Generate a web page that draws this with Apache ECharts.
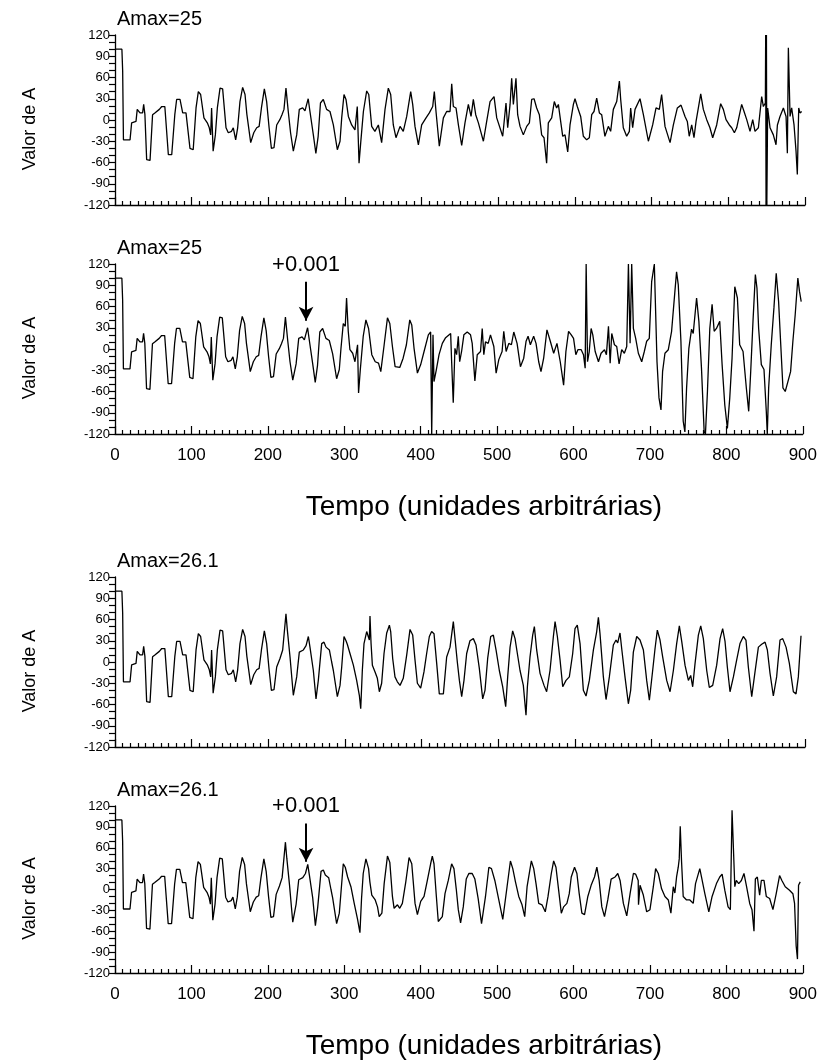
<!DOCTYPE html>
<html>
<head>
<meta charset="utf-8">
<script src="https://cdn.jsdelivr.net/npm/echarts@6/dist/echarts.min.js"></script>
<style>
  html, body { margin: 0; padding: 0; background: #fff; }
  #chart { width: 820px; height: 1061px; }
</style>
</head>
<body>
<div id="chart"></div>
<script>
// Série temporal de A(t): pares [tempo, valor].
// Transiente inicial, comum às quatro simulações.
const transitorio = [
  [0,100],[9,100],[10,69],[11,-28],[19.6,-28],[21.7,-4],[27.4,-2],[29,15],[31.3,17],[32.6,10],[36,10],[37.4,22],[39,8],[41.3,-56],[45.7,-57],
  [49,7.5],[52,10],[57.8,15],[61,19],[65,19],[69.6,-49],[74,-49],[78,7.5],[80.4,29],[84.8,29],[88.3,10],[92.6,10],[97.8,-40],[102,-42],
  [105.7,17],[108.7,40],[111.7,36],[116,3],[120.4,-4],[123,-11],[124.8,-21],[126,17],[128,-44],[130.9,-21],[133.5,17],[137,45],[140.4,44],
  [144.8,-11],[147.8,-18],[152,-16],[154.3,-11],[157.4,-28],[160,-11],[163,26],[166.5,46],[169.6,36],[172,8],[177,-32],[181,-18],[184.8,-11],
  [188,-9],[191,17],[194.8,44],[197.8,26],[201,-11],[204,-40],[207.4,-39],[210.9,-7]
];

// Amax = 25, trecho até t = 290
const a25Antes = [
  [215,0.5],[217.8,7.5],[220.4,15],[223,45],[226,12],[229,-18],[232.6,-44],[237,-21],[240.4,15],[244.8,17],[247.8,13],[250,22],[252,30],
  [254.3,12],[258.7,-21],[262,-47],[265,-23],[268,24],[271.7,29],[276,15],[280.4,12],[284.8,-7],[290,-42]
];

// Amax = 25, sem perturbação
const a25 = [
  [293.5,-30],[295.7,3],[298.7,36],[301.3,29],[304.4,5],[308.7,-7],[313,-14],[316,19],[318.3,-61],[320.5,-32],[324,12],[328.3,41],[331,36],
  [334.8,-9],[339,-16],[343.5,-7],[347.8,-32],[352.2,15],[356.5,45],[359.6,36],[363,-7],[366.5,-25],[371.8,-9],[376,-16],[380.5,5],[385.7,40],
  [388.3,22],[391.3,-9],[395.7,-35],[400,-7],[405.7,3],[410,10],[414.4,19],[416.5,40],[418.7,12],[423,-37],[428.3,3],[432.6,12],[437,12],
  [439.2,51],[441.3,19],[444.8,17],[447.9,-7],[452.2,-36],[456.5,-4],[460.9,22],[464.4,5],[467.4,29],[470.5,7.5],[474,-4],[477,-16],
  [480.5,-30],[484.8,-2],[489.2,26],[494.4,33],[497.9,3],[505.7,-23],[510,24],[512.2,-11],[515.3,22],[517.4,59],[519.6,22],[523,59],
  [525.2,7.5],[528.3,-9],[532.6,-21],[537,-9],[540.5,-4],[543.5,29],[546.6,30],[550,17],[553.5,7.5],[556.5,-21],[559.6,-25],[563,-61],
  [565.2,-4],[569.6,3],[573,26],[576,17],[578.3,22],[581.3,-2],[584,-23],[587,-21],[590.5,-45],
  [593.5,-7],[597.9,22],[600,30],[603,19],[607.4,5],[610.9,-23],[615.2,-28],[618.7,-25],[621.8,7.5],[624.8,12],[628.3,31],[631.8,10],
  [634.8,7.5],[639,-23],[643.5,-9],[646.5,-16],[650,15],[654.4,26],[657.9,55],[659.6,29],[663,-11],[667.4,-23],[670.9,-16],[672.6,17],
  [675.2,-11],[678.3,15],[684.8,30],[689.2,7.5],[695.7,-30],[701.3,-7],[705.7,17],[710,15],[713,36],[717.4,-9],[724,-32],[728.3,-7],
  [733.5,17],[738.3,21],[743.5,5],[746.5,-2],[749,-23],[752.2,-7],[755.2,-25],[757.9,-2],[760.9,17],[764,37],[767.4,15],[771.8,0.5],
  [776,-11],[779.6,-25],[784.8,-7],[790,23],[793.5,15],[797,0.5],[801.3,-7],[804.4,-11],[807.9,-18],[810.9,-11],[817.4,22],[820.5,12],
  [824,0.5],[828.3,-16],[831.8,0.5],[834.8,-16],[839.2,-11],[843.5,33],[845.7,19],[848.3,24],[848.7,120],[849.2,-120],[849.7,120],
  [850.2,-120],[851.3,17],[854.4,-11],[858.7,-21],[862.2,-35],[864,-7],[867.4,5],[871.8,17],[875.3,5],[877,-47],[878.3,102],[880.5,5],
  [882.6,17],[885.7,-7],[888.3,-44],[890,-77],[891.8,17],[893.5,10],[895.7,12]
];

// Amax = 25, perturbação de +0.001 em t = 250
const a25Pert = [
  [293.5,-29],[295.7,1],[298.7,36],[301.3,32],[303,72],[305.2,25],[307.4,-1],[311,-6],[314,-18],[317.4,6],[318.7,-62],[321,-29],[324.8,18],
  [328.3,41],[331.8,29],[336,-8],[340.5,-18],[344.8,-20],[347.8,-32],[352.2,6],[356.5,44],[359.6,36],[363,3.5],[366.5,-25],[372.6,-26],
  [377,-13],[381.3,6],[385.7,41],[388.3,34],[391.3,1],[395.7,-34],[400,-22],[404.4,-3.5],[410,20],[413,24],[414.4,-120],[416.1,20],
  [417.4,-46],[420.5,-29],[424,-8],[428.3,8],[432.6,16],[439.2,22],[440.5,-18],[442.6,-76],[444.8,1],[447,-8],[449.2,18],[451,-18],
  [453.5,-3.5],[456.5,20],[460.9,24],[465.2,20],[467.4,8],[470.9,-45],[474,-8],[476,-10],[478.3,-3.5],[480.5,29],[482.6,-8],[484.8,10],
  [488.3,8],[491.3,20],[493.5,20],[495.7,3.5],[498.7,-34],[502.2,-15],[506.5,-3.5],[508.7,25],[511.8,-3.5],[515.3,8],[518.7,6],[521.8,24],
  [524,25],[526.1,8],[530.5,-25],[534.8,-13],[537.9,11],[540.5,18],[543.5,6],[547.8,18],[550.9,8],[554.4,-18],[557.4,-32],[560.9,-13],
  [565.2,27],[569.6,11],[574,-6],[578.3,8],[582.6,-18],[587,-51],[590,-3.5],
  [593.5,25],[597,20],[600,15],[603,-8],[605.7,-1],[610,-1],[613,-8],[615.2,-27],[616.5,120],[618.3,-18],[620.5,-4],[623,29],[625.2,20],
  [628.3,-3.5],[632.6,-18],[636,-6],[640.5,-1],[643,-8],[645.7,32],[647.9,-20],[650,22],[653.5,6],[656.5,3.5],[659.6,-21],[663,-1],
  [666.5,-6],[669.6,3.5],[671.8,120],[674,8],[676.1,120],[678.3,29],[681.3,15],[684.8,-6],[689.2,-18],[692.6,-3.5],[695.7,11],[699.1,15],
  [702.2,95],[705.7,120],[707.4,120],[709.2,-18],[711.8,-69],[714.4,-86],[716.5,-32],[719.6,-6],[724,-1],[728.3,25],[732.6,81],[734.8,109],
  [737,91],[740.5,11],[743.5,-102],[745.7,-117],[747.9,-55],[750.9,1],[754.4,28],[756.6,22],[761,72],[764,39],[767.4,-27],[770.9,-117],
  [772.6,-120],[775.2,-60],[778.3,29],[781.3,63],[784,25],[787,29],[791.3,39],[794.4,-22],[797.9,-79],[801.3,-112],[804.4,-69],[807.4,-13],
  [811,88],[814.4,72],[817.4,6],[821.8,-3.5],[826.1,-55],[829.2,-88],[831.8,-32],[834.8,39],[837.9,105],[840,86],[842.2,29],[845.7,-22],
  [849.2,-29],[852.2,-88],[853.5,-120],[855.3,-55],[858.7,6],[862.2,58],[865.2,107],[868.3,67],[870.9,11],[874,-55],[877,-60],[880.5,-46],
  [884,-32],[887,11],[890,48],[893.5,100],[895.7,81],[897.9,67]
];

// Amax = 26.1, trecho até t = 290
const a261Antes = [
  [215.2,5],[218.7,17],[223,68],[224.8,45],[228.3,7],[232.6,-47],[237,-21],[240.4,14],[245.7,17],[249.2,23],[252.2,36],[254.3,21],
  [258.7,-12],[262.2,-52],[265.2,-26],[269.6,26],[272.6,28],[275.2,21],[279.6,17],[282.6,0],[284.8,-12],[290,-49]
];

// Amax = 26.1, sem perturbação
const a261 = [
  [293.5,-33],[295.7,-7],[298.7,36],[301.3,30],[303,25],[306.5,12],[310.9,-4.5],[315.2,-26],[318.7,-47],[320.5,-66],[322.6,-12],[324.8,26],
  [328.3,43],[331.8,31],[332.6,65],[334,26],[335.7,-4.5],[339.2,-14],[342.2,-23],[344.8,-42],[347.8,-30],[350.9,12],[354.4,41],[357.9,52],
  [359.6,43],[362.2,5],[365.2,-21],[368.3,-28],[371.8,-33],[376,-23],[380.5,10],[384.8,46],[388.3,38],[391.3,3],[394.4,-30],[398.7,-37],
  [403,-14],[406.5,12],[410,36],[413,43],[416.1,40],[419.6,-2],[423,-45],[428.3,-45],[432.6,7],[437,21],[441.3,57],[443.5,33],[446.5,0],
  [449.2,-26],[452.2,-49],[455.2,-26],[458.7,12],[463,30],[467.4,33],[470.9,24],[475.2,-9],[479.6,-52],[482.6,-40],[486.1,5],[490,36],
  [493.5,38],[497,17],[501.3,-12],[505.7,-35],[509.6,-63],[512.2,-21],[515.3,21],[518.7,44],[521.8,33],[524.8,12],[528.3,-12],[532.6,-33],
  [536.1,-75],[537.9,-35],[541.3,7],[544.8,38],[547,50],[550,17],[554.4,-16],[559.6,-33],[563,-42],[567.4,-12],[571.8,36],[574,57],
  [577,36],[580.5,3],[584,-35],[588.3,-26],[592.6,-21],
  [597,12],[600,47],[603,52],[606.6,26],[610.9,-40],[614.4,-48],[618.7,-26],[624,17],[628.3,43],[630.5,63],[632.6,40],[637,-21],
  [640.5,-53],[644.8,-21],[650,24],[653.5,31],[655.7,27],[658.7,41],[660.9,19],[665.2,-21],[669.6,-59],[672.6,-40],[676.1,14],[680.5,36],
  [684.8,31],[689.2,17],[693.5,-26],[697,-54],[701.3,-12],[704.4,19],[707.4,45],[710.9,31],[714.4,7],[719.6,-26],[724,-42],[728.3,-12],
  [732.6,26],[736.1,51],[739.2,29],[743.5,-4.5],[747.9,-26],[750.9,-19],[753.5,-35],[756.6,-2],[760.9,38],[764,51],[767.4,33],[771.8,-12],
  [775.2,-36],[779.6,-33],[784.8,-4.5],[789.2,33],[792.6,47],[795.7,29],[798.7,-7],[802.2,-42],[806.6,-21],[810.9,3],[815.2,26],[819.6,36],
  [823,31],[826.1,-7],[830.5,-49],[834.8,-14],[839.2,21],[843.5,25],[847.9,28],[850.9,17],[854.4,-16],[858.7,-48],[863,-21],[867.4,31],
  [870.9,33],[875.3,21],[879.6,-2],[884.8,-42],[888.3,-45],[891.3,-21],[894.8,37]
];

// Amax = 26.1, perturbação de +0.001 em t = 250
const a261Pert = [
  [293.5,-34],[295.7,-4],[298.7,37],[301.3,32],[304.4,18],[308.7,4],[313,-20],[317.4,-43],[320.5,-62],[322.6,-13],[324.8,23],[328.3,44],
  [331.8,30],[333.5,11],[336,-8],[340.5,-15],[343.5,-25],[345.7,-39],[349.2,-34],[352.2,8.5],[356.5,48],[359.6,39],[363,-10],[365.2,-27],
  [369.6,-22],[372.6,-27],[376,-20],[380.5,11],[384.8,46],[388.3,37],[392.6,-20],[395.7,-36],[400,-17],[404.4,-10],[408.7,13],[413,37],
  [415.2,48],[417.4,37],[420.5,-10],[423,-46],[428.3,-39],[431.8,-6],[436.1,13],[440.5,37],[443.5,30],[446.5,1],[449.2,-29],[452.2,-48],
  [455.7,-25],[459.6,15],[463,23],[467.4,23],[470.9,15],[475.2,-13],[479.6,-49],[484.8,-10],[489.2,32],[492.6,30],[497,13],[502.2,-15],
  [507.4,-43],[513,4],[517.4,41],[520.5,30],[524,11],[528.3,-10],[532.6,-22],[536.1,-39],[539.2,4],[544.8,41],[547.9,30],[550.9,8.5],
  [554.4,-20],[558.7,-22],[563,-32],[566.6,-10],[570.9,23],[574,41],[577,32],[580.5,-1],[584,-34],[587,-25],[591.3,-20],
  [594.4,-6],[597,18],[601.3,32],[604.4,23],[607.4,-6],[610.9,-34],[614.4,-36],[618.7,-10],[623,6],[627.4,18],[630.5,32],[633.5,13],
  [637,-25],[640.5,-39],[644.8,-15],[649.2,15],[654.4,18],[657.9,23],[660.9,13],[665.2,-20],[669.6,-38],[674,-6],[678.3,23],[681.3,22],
  [684.6,13],[685,-22],[687,6],[691.3,-8],[695.7,-32],[700,-29],[704.4,4],[707.4,30],[710.9,23],[715.2,1],[719.6,-10],[724,-15],
  [727.4,-34],[730.5,4],[732.6,-5],[734.8,18],[737,32],[738.3,44],[739.6,91],[741.3,41],[743.5,-10],[747.9,-15],[752.2,-15],[756.6,-20],
  [759.6,8.5],[765.2,30],[767.4,18],[771.8,-6],[777,-32],[781.3,-10],[787,8.5],[791.3,18],[794.4,22],[797.9,-1],[802.2,-25],[805.2,-29],
  [807.4,114],[809,114],[811,4],[813,13],[816.1,8.5],[819.6,13],[823,23],[826.1,6],[830.5,-20],[833.5,-29],[836.1,-60],[837.9,15],
  [840.5,18],[843.5,-8],[845.7,13],[849.2,13],[852.2,-10],[856.6,-13],[860.9,-29],[865.2,-6],[869.6,20],[872.6,13],[877,4],[882.6,-1],
  [887,-6],[889.2,-20],[891.3,-81],[893,-100],[894.4,6],[896.6,11]
];

const rotulosAmax = ['Amax=25', 'Amax=25', 'Amax=26.1', 'Amax=26.1'];
const series = [
  transitorio.concat(a25Antes, a25),
  transitorio.concat(a25Antes, a25Pert),
  transitorio.concat(a261Antes, a261),
  transitorio.concat(a261Antes, a261Pert)
];
const comPerturbacao = [false, true, false, true];
const tPerturbacao = 250;
const rotuloPerturbacao = '+0.001';
const tituloX = 'Tempo (unidades arbitrárias)';
const tituloY = 'Valor de A';

const FONTE = '"Liberation Sans", Arial, sans-serif';
const topos = [35, 264, 577, 806];
const chart = echarts.init(document.getElementById('chart'), null, { renderer: 'canvas' });

const grid = [], xAxis = [], yAxis = [], serie = [], title = [];
topos.forEach((top, i) => {
  const comRotulos = (i % 2 === 1);
  grid.push({ left: 115, width: 690, top: top, height: 170 });
  xAxis.push({
    type: 'value', gridIndex: i, min: 0, max: 900, interval: 100,
    axisLine: { onZero: false, lineStyle: { color: '#000', width: 1.3 } },
    axisTick: { inside: true, length: 8, lineStyle: { color: '#000', width: 1.2 } },
    minorTick: { show: true, splitNumber: 10, length: 4, lineStyle: { color: '#000', width: 1.2 } },
    splitLine: { show: false },
    axisLabel: { show: comRotulos, color: '#000', fontFamily: FONTE, fontSize: 17, margin: 13 },
    name: comRotulos ? tituloX : '',
    nameLocation: 'middle', nameGap: 59,
    nameTextStyle: { color: '#000', fontFamily: FONTE, fontSize: 28, padding: [0, 0, 0, 50] }
  });
  yAxis.push({
    type: 'value', gridIndex: i, min: -120, max: 120, interval: 30,
    axisLine: { show: true, onZero: false, lineStyle: { color: '#000', width: 1.3 } },
    axisTick: { show: true, inside: false, length: 6, lineStyle: { color: '#000', width: 1.2 } },
    minorTick: { show: true, splitNumber: 3, length: 6, lineStyle: { color: '#000', width: 1.2 } },
    splitLine: { show: false },
    axisLabel: { color: '#000', fontFamily: FONTE, fontSize: 13, margin: 5 },
    name: tituloY, nameLocation: 'middle', nameRotate: 90, nameGap: 76,
    nameTextStyle: { color: '#000', fontFamily: FONTE, fontSize: 18, padding: [0, 18, 0, 0] }
  });
  title.push({
    text: rotulosAmax[i], left: 112, top: top - 31,
    textStyle: { color: '#000', fontFamily: FONTE, fontSize: 20, fontWeight: 'normal' }
  });
  const s = {
    type: 'line', xAxisIndex: i, yAxisIndex: i, data: series[i],
    showSymbol: false, symbol: 'none', clip: true, animation: false,
    lineStyle: { color: '#000', width: 1.3 }
  };
  if (comPerturbacao[i]) {
    s.markLine = {
      silent: true, animation: false,
      symbol: ['none', 'arrow'], symbolSize: [11, 14],
      lineStyle: { color: '#000', width: 2, type: 'solid' },
      label: {
        show: true, position: 'start', distance: 6, formatter: rotuloPerturbacao,
        color: '#000', fontFamily: FONTE, fontSize: 22
      },
      data: [[{ coord: [tPerturbacao, 95] }, { coord: [tPerturbacao, 40] }]]
    };
  }
  serie.push(s);
});

chart.setOption({
  animation: false,
  backgroundColor: '#fff',
  title: title,
  grid: grid,
  xAxis: xAxis,
  yAxis: yAxis,
  series: serie
});
</script>
</body>
</html>
